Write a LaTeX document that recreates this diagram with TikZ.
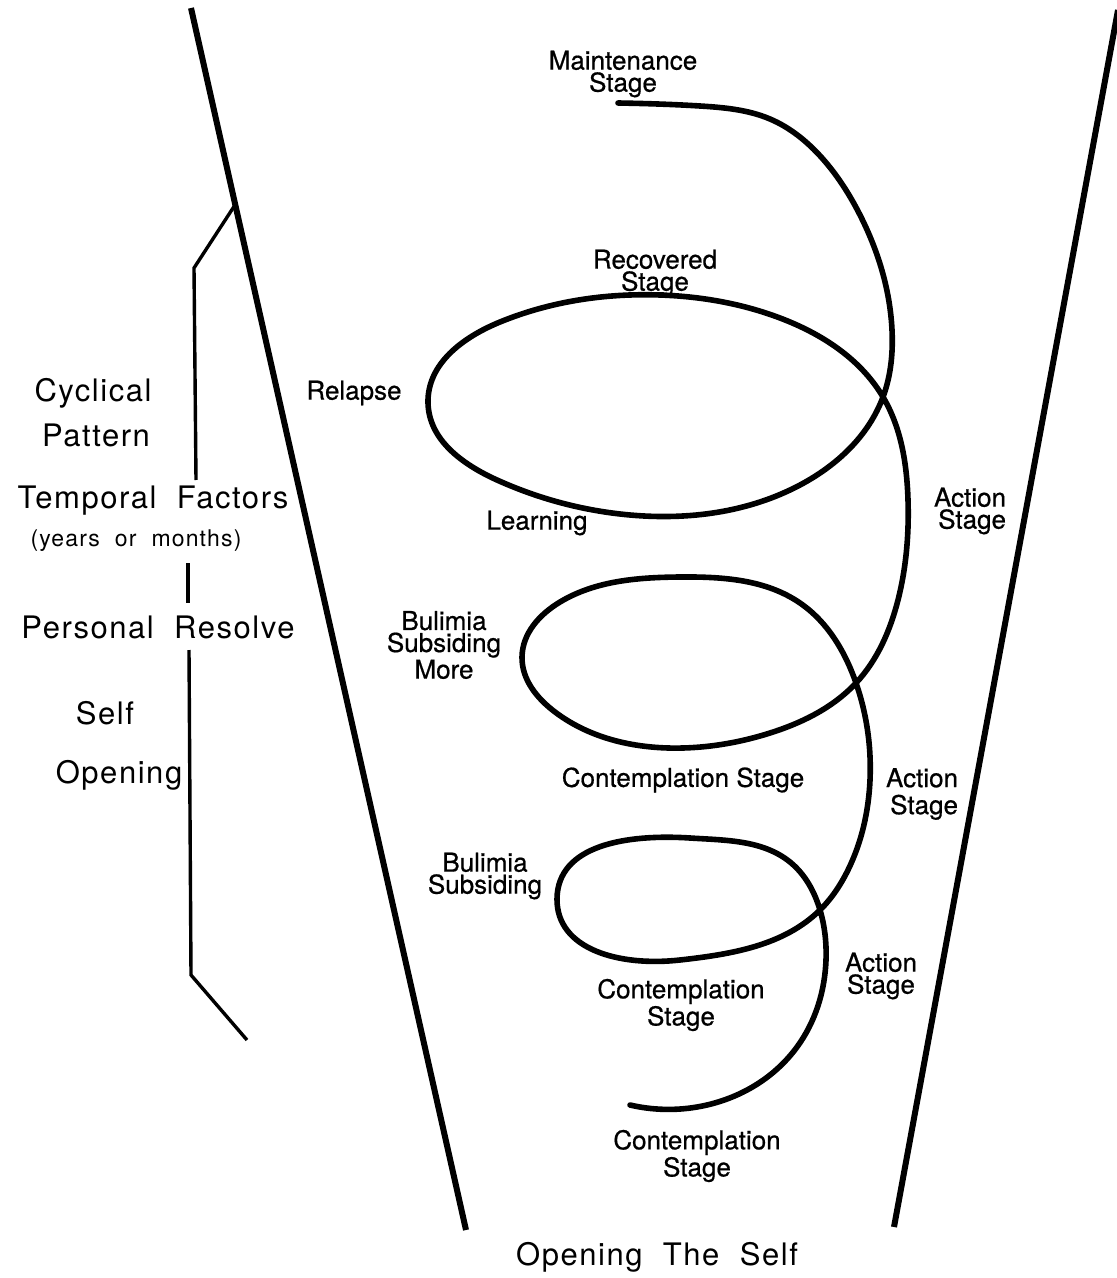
\documentclass[tikz,border=0pt]{standalone}
\usepackage{fontspec}
\usetikzlibrary{hobby}
\setmainfont{TeX Gyre Heros}
\newfontfamily\lblfont[FakeBold=0.6]{TeX Gyre Heros}
\newfontfamily\bigfont[LetterSpace=5,WordSpace=2.0]{TeX Gyre Heros}
\begin{document}
\begin{tikzpicture}[x=0.5pt,y=-0.5pt,
  lbl/.style={font=\lblfont\fontsize{13}{11}\selectfont, align=center, inner sep=0pt},
  lblwide/.style={font=\lblfont\fontsize{13}{13.5}\selectfont, inner sep=0pt},
  big/.style={font=\bigfont\fontsize{15.5}{18}\selectfont, inner sep=0pt},
  small/.style={font=\bigfont\fontsize{11.5}{14}\selectfont, inner sep=0pt},
  spiral/.style={line width=2.8pt, line cap=round, line join=round},
  funnel/.style={line width=3pt},
  brk/.style={line width=1.7pt, line join=miter}]
\useasboundingbox (0,0) rectangle (1117,1278);
\clip (0,0) rectangle (1117,1278);

% funnel
\coordinate (L1) at (191,8);
\coordinate (L2) at (466,1230);
\coordinate (R1) at (1118,10);
\coordinate (R2) at (894,1227);
\draw[funnel] (L1) -- (L2);
\draw[funnel] (R1) -- (R2);

% left labels
\node[big] (cyc) at (93,393) {Cyclical};
\node[big] (pat) at (96,435) {Pattern};
\node[big] (temp) at (153,501) {Temporal Factors};
\node[small] (years) at (136,541) {(years or months)};
\node[big] (pers) at (158,627) {Personal Resolve};
\node[big] (self) at (105,713) {Self};
\node[big] (open) at (119,775) {Opening};

% bracket
\coordinate (b0) at (235,205);
\coordinate (b1) at (194,268);
\coordinate (b2) at (196,480);
\coordinate (b3) at (188,563);
\coordinate (b4) at (188,603);
\coordinate (b5) at (189,650);
\coordinate (b6) at (191,975);
\coordinate (b7) at (247,1040);
\draw[brk] (b0) -- (b1) -- (b2);
\draw[brk] (b3) -- (b4);
\draw[brk] (b5) -- (b6) -- (b7);

% spiral
\draw[spiral, use Hobby shortcut]
 ([out angle=-1]618,103) .. (700,106) .. (770,119) .. (822,158) .. (860,215)
 .. (892,330) .. (883,397)
 .. (800,485) .. (630,515) .. (497,480) .. (428,403) .. (500,322)
 .. (660,295) .. (780,318) .. (883,397) .. (908,500) .. (898,600)
 .. (856,683) .. (770,733) .. (683,748) .. (555,712) .. (522,657)
 .. (560,602) .. (680,577) .. (800,603) .. (856,683) .. (870,780)
 .. (848,870) .. (820,910) .. (680,960) .. (557,899) .. (690,838)
 .. (790,862) .. (820,910) .. (826,960) .. (797,1047) .. (697,1107)
 .. (630,1105);

% spiral labels
\node[lbl] (maint) at (623,74) {Maintenance\\Stage};
\node[lbl] (recov) at (655,273) {Recovered\\Stage};
\node[lbl] (relapse) at (354,393) {Relapse};
\node[lbl] (learn) at (537,523) {Learning};
\node[lbl] (bsm) at (444,645) {Bulimia\\Subsiding\\More};
\node[lbl] (cont1) at (683,780) {Contemplation Stage};
\node[lbl, align=right] (act1) at (970,511) {Action\\Stage};
\node[lblwide, align=right] (act2) at (922,794) {Action\\Stage};
\node[lbl] (bs) at (485,876) {Bulimia\\Subsiding};
\node[lbl] (cont2) at (681,1005) {Contemplation\\Stage};
\node[lbl] (act3) at (881,976) {Action\\Stage};
\node[lbl] (cont3) at (697,1156) {Contemplation\\Stage};
\node[big] (title) at (657,1257) {Opening The Self};
\end{tikzpicture}
\end{document}
